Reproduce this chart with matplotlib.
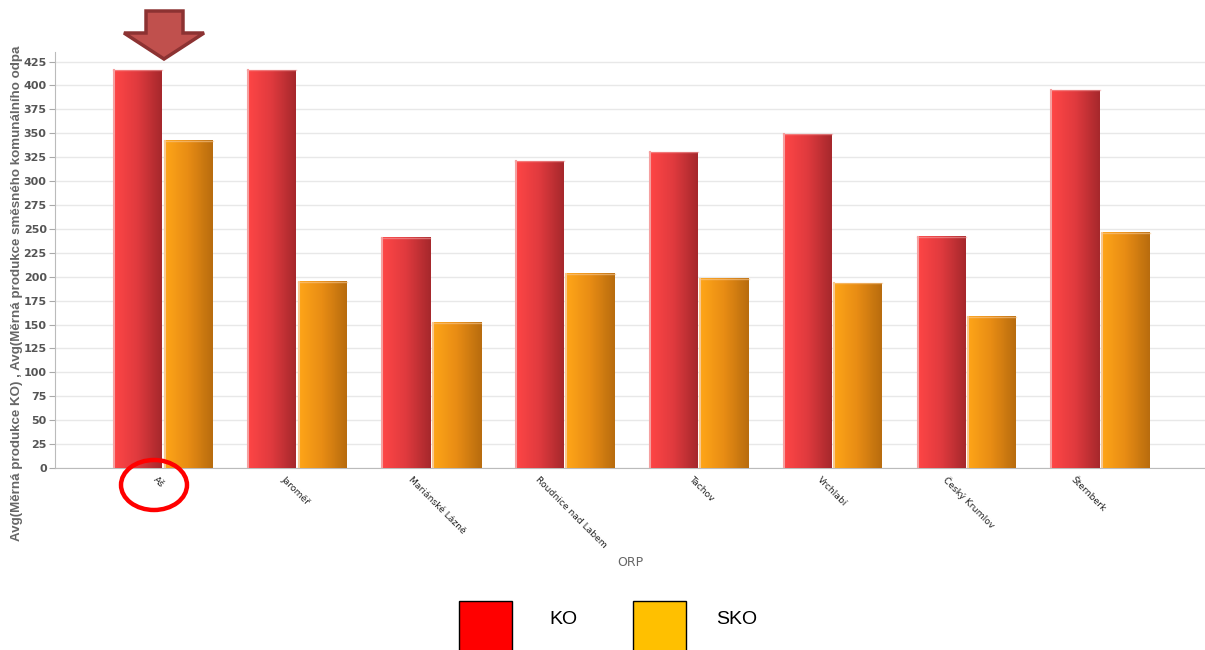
import numpy as np
import matplotlib.pyplot as plt
from matplotlib.colors import LinearSegmentedColormap
from matplotlib.patches import Polygon, Ellipse, Rectangle

orp = ['Aš', 'Jaroměř', 'Mariánské Lázně', 'Roudnice nad Labem', 'Tachov',
       'Vrchlabí', 'Český Krumlov', 'Šternberk']
ko = [416, 416, 241, 321, 330, 349, 242, 395]
sko = [342, 195, 152, 203, 198, 193, 158, 246]
series = ['KO', 'SKO']
legend_colors = ['#ff0000', '#ffc000']
yticks = np.arange(0, 426, 25)

W, H = 1205, 650
fig = plt.figure(figsize=(W / 100, H / 100), dpi=100)
ax = fig.add_axes([55 / W, 1 - 468 / H, 1 - 55 / W, (468 - 52) / H])

red_cm = LinearSegmentedColormap.from_list('r', ['#ff4646', '#e03a3e', '#a6282c'])
org_cm = LinearSegmentedColormap.from_list('o', ['#ffa618', '#e88c14', '#b86c0e'])
grad = np.linspace(0, 1, 64).reshape(1, -1)

step = 133.9
bw = 49 / step
x = np.arange(len(orp))


def gbar(x0, h, cmap, edge):
    ax.imshow(grad, cmap=cmap, extent=(x0, x0 + bw, 0, h), aspect='auto',
              origin='lower', zorder=3, interpolation='bicubic')
    ax.plot([x0 + 0.006, x0 + 0.006], [0, h], color=edge, lw=1.5, zorder=4)
    ax.plot([x0, x0 + bw], [h, h], color=edge, lw=1, zorder=4, alpha=0.6)


for i in x:
    gbar(i - bw - 0.005, ko[i], red_cm, '#f5a0a0')
    gbar(i + 0.007, sko[i], org_cm, '#f8c890')

ax.set_xlim((55 - 163) / step, (W - 163) / step)
ax.set_ylim(0, 435)
ax.set_yticks(yticks)
ax.set_yticklabels([str(t) for t in yticks], fontsize=8, fontweight='bold', color='#555555')
ax.yaxis.grid(True, color='#e8e8e8', lw=1, zorder=0)
ax.set_axisbelow(True)
ax.tick_params(axis='y', length=4, color='#aaaaaa', pad=2)
ax.tick_params(axis='x', length=0, pad=5)
# labels in the original drift a few px left across each run of four
nudge = np.array([15, 9, 2, -5] * 2) / step
ax.set_xticks(x - 0.15 + nudge)
ax.set_xticklabels(orp, rotation=-45, ha='left', rotation_mode='anchor',
                   fontsize=6.6, color='#222222')
for s in ['top', 'right']:
    ax.spines[s].set_visible(False)
ax.spines['left'].set_color('#bbbbbb')
ax.spines['bottom'].set_color('#bbbbbb')

fig.text(630 / W, 1 - 562 / H, 'ORP', fontsize=9, color='#666666',
         ha='center', va='center')
fig.text(17 / W, 1 - 541 / H,
         'Avg(Měrná produkce KO) , Avg(Měrná produkce směsného komunálního odpa',
         rotation=90, fontsize=9.6, color='#666666', ha='center', va='bottom',
         family='Liberation Sans', fontweight='bold')


def px(pts):
    return [(a / W, 1 - b / H) for a, b in pts]


arrow = px([(146, 11), (183, 11), (183, 33), (204, 33), (164, 59),
            (124, 33), (146, 33)])
fig.patches.append(Polygon(arrow, closed=True, facecolor='#c0504d',
                           edgecolor='#8c3232', lw=2.5, transform=fig.transFigure))
fig.patches.append(Ellipse((154 / W, 1 - 485 / H), 66 / W, 50 / H, fill=False,
                           edgecolor='#ff0000', lw=3.2, transform=fig.transFigure))

for i, (name, c) in enumerate(zip(series, legend_colors)):
    x0 = 459 + i * 174
    fig.patches.append(Rectangle((x0 / W, 1 - 652 / H), 53 / W, 51 / H,
                                 facecolor=c, edgecolor='#000000', lw=1,
                                 transform=fig.transFigure))
    fig.text((x0 + 104) / W, 1 - 620 / H, name, fontsize=14,
             family='Liberation Sans', va='center', ha='center')

fig.savefig('out.png', dpi=100)
